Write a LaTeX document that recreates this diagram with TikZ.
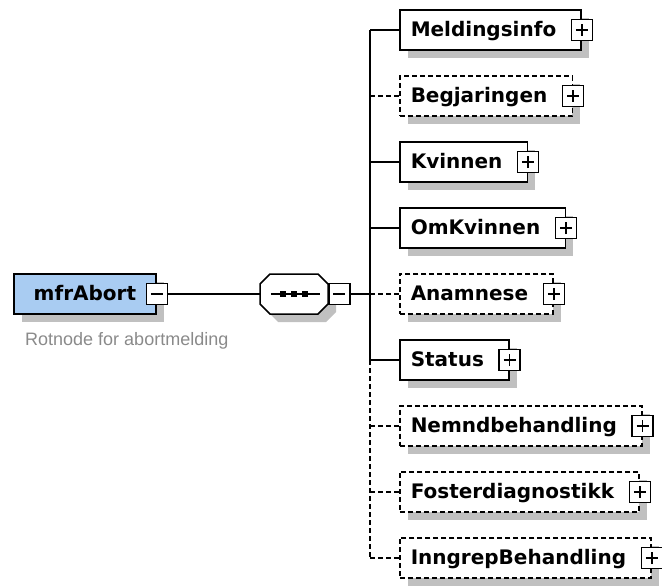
\documentclass[tikz,border=0pt]{standalone}
\usepackage{fontspec}
\setmainfont{DejaVu Sans}
\newfontfamily\notefont{Liberation Sans}
\usetikzlibrary{shadows}
\definecolor{rootblue}{HTML}{A9CCF2}
\definecolor{shadowgray}{HTML}{C0C0C0}
\definecolor{notegray}{HTML}{8A8A8A}
\tikzset{
  box shadow/.style={drop shadow={shadow xshift=8pt, shadow yshift=-8pt, fill=shadowgray, opacity=1}},
  elembase/.style={draw, fill=white, line width=1.5pt, anchor=west, minimum height=40pt,
    inner ysep=0pt, text height=17pt, text depth=4pt,
    font=\bfseries\fontsize{20}{24}\selectfont, box shadow},
  elem/.style={elembase, inner xsep=11pt, execute at end node={\hspace*{14pt}}},
  optelem/.style={elem, dash pattern=on 5pt off 3pt},
  rootelem/.style={elembase, fill=rootblue, inner xsep=20pt},
  signbox/.style={draw, fill=white, line width=1.5pt, minimum size=21pt, inner sep=0pt},
  plusbox/.style={signbox, path picture={
    \draw[line width=1.6pt] ([xshift=-6pt]path picture bounding box.center) -- ([xshift=6pt]path picture bounding box.center)
      ([yshift=-6pt]path picture bounding box.center) -- ([yshift=6pt]path picture bounding box.center);}},
  minusbox/.style={signbox, path picture={
    \draw[line width=1.6pt] ([xshift=-6pt]path picture bounding box.center) -- ([xshift=6pt]path picture bounding box.center);}},
  link/.style={line width=1.5pt},
  optlink/.style={link, dash pattern=on 5pt off 3pt}
}
\begin{document}
\begin{tikzpicture}[x=1pt, y=-1pt]
  \useasboundingbox (0,0) rectangle (662,586);
  \node[rootelem] (root) at (13,294) {mfrAbort};
  \node[minusbox] (rootmin) at (root.east) {};
  \node[anchor=base west, inner sep=0pt, text=notegray, font=\notefont\fontsize{18}{22}\selectfont] (rootnote) at (25,345) {Rotnode for abortmelding};
  % sequence compositor
  \fill[shadowgray] (278,282) -- (326,282) -- (336,292) -- (336,312) -- (326,322) -- (278,322) -- (268,312) -- (268,292) -- cycle;
  \filldraw[fill=white, line width=1.5pt] (270,274) -- (318,274) -- (328,284) -- (328,304) -- (318,314) -- (270,314) -- (260,304) -- (260,284) -- cycle;
  \node[minimum width=68pt, minimum height=40pt, inner sep=0pt] (seq) at (294,294) {};
  \node[minusbox, anchor=west] (seqmin) at (seq.east) {};
  \draw[line width=1.5pt] ([xshift=11pt]seq.west) -- ([xshift=-8pt]seq.east);
  \foreach \dx in {-11,0,11}
    \fill ([xshift=\dx pt]seq.center) +(-3pt,-3pt) rectangle +(3pt,3pt);
  \coordinate (trunk) at (370,294);

  \node[elem] (meld) at (399,30) {Meldingsinfo};
  \node[optelem] (begj) at (399,96) {Begjaringen};
  \node[elem] (kvin) at (399,162) {Kvinnen};
  \node[elem] (omkv) at (399,228) {OmKvinnen};
  \node[optelem] (anam) at (399,294) {Anamnese};
  \node[elem] (stat) at (399,360) {Status};
  \node[optelem] (nemd) at (399,426) {Nemndbehandling};
  \node[optelem] (fost) at (399,492) {Fosterdiagnostikk};
  \node[optelem] (inng) at (399,558) {InngrepBehandling};

  \draw[link] (rootmin.east) -- (seq.west);
  \draw[link] (seqmin.east) -- (trunk);
  \draw[link] (meld.west -| trunk) -- (stat.west -| trunk);
  \draw[optlink] (stat.west -| trunk) -- (inng.west -| trunk);
  \foreach \n in {meld,kvin,omkv,stat}
    \draw[link] (\n.west -| trunk) -- (\n.west);
  \foreach \n in {begj,anam,nemd,fost,inng}
    \draw[optlink] (\n.west -| trunk) -- (\n.west);
  \foreach \n in {meld,begj,kvin,omkv,anam,stat,nemd,fost,inng}
    \node[plusbox] (\n plus) at (\n.east) {};
\end{tikzpicture}
\end{document}
